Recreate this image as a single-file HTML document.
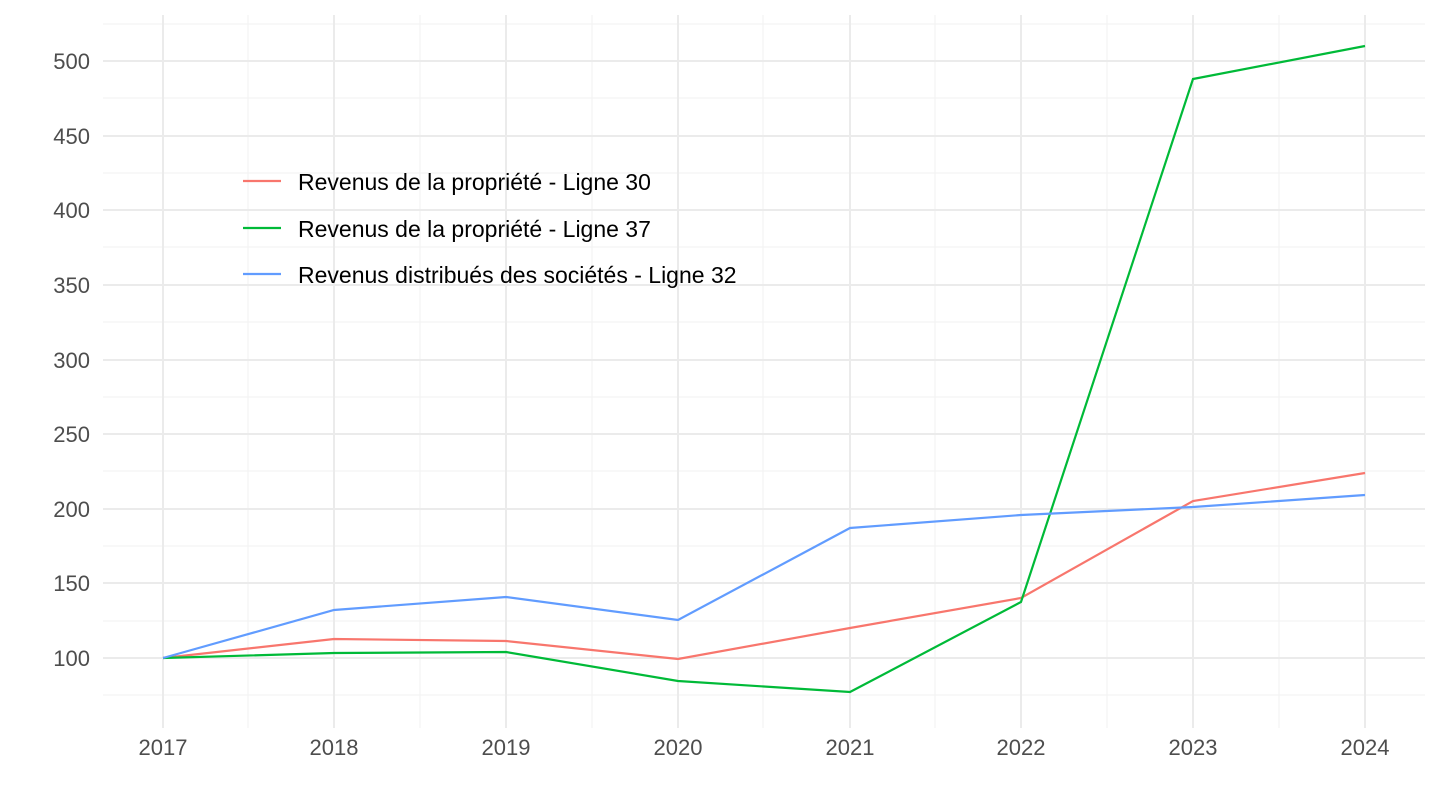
<!DOCTYPE html>
<html><head><meta charset="utf-8"><style>
body{margin:0;background:#fff;}
svg{display:block;font-family:"Liberation Sans",Arial,sans-serif;}
</style></head><body>
<svg width="1440" height="810" viewBox="0 0 1440 810">
<g stroke="#f2f2f2" stroke-width="1">
<line x1="103" x2="1425" y1="695" y2="695"/><line x1="103" x2="1425" y1="621" y2="621"/><line x1="103" x2="1425" y1="546" y2="546"/><line x1="103" x2="1425" y1="471" y2="471"/><line x1="103" x2="1425" y1="397" y2="397"/><line x1="103" x2="1425" y1="322" y2="322"/><line x1="103" x2="1425" y1="247" y2="247"/><line x1="103" x2="1425" y1="173" y2="173"/><line x1="103" x2="1425" y1="98" y2="98"/><line x1="103" x2="1425" y1="24" y2="24"/>
<line y1="15" y2="728" x1="248" x2="248"/><line y1="15" y2="728" x1="420" x2="420"/><line y1="15" y2="728" x1="592" x2="592"/><line y1="15" y2="728" x1="763" x2="763"/><line y1="15" y2="728" x1="935" x2="935"/><line y1="15" y2="728" x1="1107" x2="1107"/><line y1="15" y2="728" x1="1279" x2="1279"/>
</g>
<g stroke="#ebebeb" stroke-width="2">
<line x1="103" x2="1425" y1="658" y2="658"/><line x1="103" x2="1425" y1="583" y2="583"/><line x1="103" x2="1425" y1="509" y2="509"/><line x1="103" x2="1425" y1="434" y2="434"/><line x1="103" x2="1425" y1="360" y2="360"/><line x1="103" x2="1425" y1="285" y2="285"/><line x1="103" x2="1425" y1="210" y2="210"/><line x1="103" x2="1425" y1="136" y2="136"/><line x1="103" x2="1425" y1="61" y2="61"/>
<line y1="15" y2="728" x1="163" x2="163"/><line y1="15" y2="728" x1="334" x2="334"/><line y1="15" y2="728" x1="506" x2="506"/><line y1="15" y2="728" x1="678" x2="678"/><line y1="15" y2="728" x1="850" x2="850"/><line y1="15" y2="728" x1="1021" x2="1021"/><line y1="15" y2="728" x1="1193" x2="1193"/><line y1="15" y2="728" x1="1365" x2="1365"/>
</g>
<g font-size="22" fill="#4d4d4d" text-anchor="end">
<text x="90" y="666">100</text><text x="90" y="591">150</text><text x="90" y="517">200</text><text x="90" y="442">250</text><text x="90" y="368">300</text><text x="90" y="293">350</text><text x="90" y="218">400</text><text x="90" y="144">450</text><text x="90" y="69">500</text>
</g>
<g font-size="22" fill="#4d4d4d" text-anchor="middle">
<text x="163" y="755">2017</text><text x="334" y="755">2018</text><text x="506" y="755">2019</text><text x="678" y="755">2020</text><text x="850" y="755">2021</text><text x="1021" y="755">2022</text><text x="1193" y="755">2023</text><text x="1365" y="755">2024</text>
</g>
<g fill="none" stroke-width="2.2">
<polyline stroke="#f8766d" points="163,658 334,639 506,641 678,659 850,628 1021,598 1193,501 1365,473"/>
<polyline stroke="#00ba38" points="163,658 334,653 506,652 678,681 850,692 1021,602 1193,79 1365,46"/>
<polyline stroke="#619cff" points="163,658 334,610 506,597 678,620 850,528 1021,515 1193,507 1365,495"/>
</g>
<g stroke-width="2.2">
<line x1="243" x2="281" y1="181" y2="181" stroke="#f8766d"/>
<line x1="243" x2="281" y1="228" y2="228" stroke="#00ba38"/>
<line x1="243" x2="281" y1="274" y2="274" stroke="#619cff"/>
</g>
<g font-size="23" fill="#000">
<text x="298" y="190">Revenus de la propriété - Ligne 30</text>
<text x="298" y="237">Revenus de la propriété - Ligne 37</text>
<text x="298" y="283">Revenus distribués des sociétés - Ligne 32</text>
</g>
</svg>
</body></html>
